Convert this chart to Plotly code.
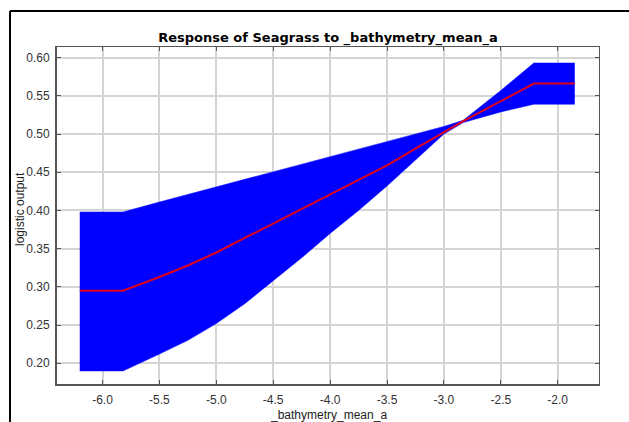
import plotly.graph_objects as go

# Response curve of Seagrass presence vs. mean bathymetry
bathy = [-6.2, -5.82, -5.5, -5.25, -5.0, -4.75, -4.5, -4.25, -4.0, -3.75, -3.5,
         -3.25, -3.0, -2.83, -2.5, -2.21, -1.85]
mean_resp = [0.295, 0.295, 0.313, 0.328, 0.345, 0.364, 0.383, 0.402, 0.421, 0.440, 0.459,
             0.481, 0.503, 0.517, 0.543, 0.566, 0.566]
band_hi = [0.398, 0.398, 0.411, 0.421, 0.431, 0.441, 0.450, 0.460, 0.470, 0.480, 0.490,
           0.500, 0.510, 0.518, 0.557, 0.593, 0.593]
band_lo = [0.190, 0.190, 0.212, 0.230, 0.252, 0.278, 0.308, 0.338, 0.370, 0.400, 0.432,
           0.466, 0.500, 0.515, 0.529, 0.539, 0.539]

x_ticks = [-6.0, -5.5, -5.0, -4.5, -4.0, -3.5, -3.0, -2.5, -2.0]
y_ticks = [0.20, 0.25, 0.30, 0.35, 0.40, 0.45, 0.50, 0.55, 0.60]

x_range = [-6.40, -1.637]
y_range = [0.1729, 0.6139]

font_family = "Liberation Sans, Arial, sans-serif"
axis_dark = "#555555"

fig = go.Figure()

# spread band (lower edge, then filled up to upper edge)
fig.add_trace(go.Scatter(x=bathy, y=band_lo, mode="lines",
                         line=dict(color="#0000ff", width=0.5),
                         hoverinfo="skip", showlegend=False))
fig.add_trace(go.Scatter(x=bathy, y=band_hi, mode="lines", fill="tonexty",
                         fillcolor="#0000ff", line=dict(color="#0000ff", width=0.5),
                         hoverinfo="skip", showlegend=False))
# mean response
fig.add_trace(go.Scatter(x=bathy, y=mean_resp, mode="lines",
                         line=dict(color="#e0001a", width=2),
                         showlegend=False))
# invisible trace to anchor the mirrored top/right axes
fig.add_trace(go.Scatter(x=[x_range[0]], y=[y_range[0]], xaxis="x2", yaxis="y2",
                         mode="markers", marker=dict(opacity=0),
                         hoverinfo="skip", showlegend=False))

tick_font = dict(family=font_family, size=12, color="#333333")

fig.update_layout(
    width=629, height=422,
    margin=dict(l=57, r=30, t=47, b=38),
    paper_bgcolor="white", plot_bgcolor="white",
    title=dict(text="<b>Response of Seagrass to _bathymetry_mean_a</b>",
               x=0.5, xref="paper", xanchor="center",
               y=1 - 37 / 422, yref="container", yanchor="middle",
               font=dict(family="DejaVu Sans, Verdana, sans-serif", size=13,
                         color="#000000")),
    xaxis=dict(range=x_range, tickvals=x_ticks, ticktext=[f"{v:.1f}" for v in x_ticks],
               showgrid=True, gridcolor="#d4d4d4", gridwidth=2,
               zeroline=False, showline=True, linecolor=axis_dark, linewidth=2,
               ticks="inside", ticklen=4, tickcolor=axis_dark, tickwidth=1,
               tickfont=tick_font, ticklabelstandoff=4),
    yaxis=dict(range=y_range, tickvals=y_ticks, ticktext=[f"{v:.2f}" for v in y_ticks],
               showgrid=True, gridcolor="#d4d4d4", gridwidth=2,
               zeroline=False, showline=True, linecolor=axis_dark, linewidth=2,
               ticks="inside", ticklen=4, tickcolor=axis_dark, tickwidth=1,
               tickfont=tick_font, ticklabelstandoff=3),
    xaxis2=dict(range=x_range, tickvals=x_ticks, overlaying="x", side="top",
                showgrid=False, zeroline=False, showticklabels=False,
                showline=True, linecolor=axis_dark, linewidth=1,
                ticks="inside", ticklen=4, tickcolor=axis_dark, tickwidth=1),
    yaxis2=dict(range=y_range, tickvals=y_ticks, overlaying="y", side="right",
                showgrid=False, zeroline=False, showticklabels=False,
                showline=True, linecolor=axis_dark, linewidth=1,
                ticks="inside", ticklen=4, tickcolor=axis_dark, tickwidth=1),
    annotations=[
        dict(text="logistic output", xref="paper", yref="paper",
             x=(20 - 57) / 542, y=(384 - 209) / 337, textangle=-90,
             showarrow=False, xanchor="center", yanchor="middle",
             font=dict(family=font_family, size=12, color="#222222")),
        dict(text="_bathymetry_mean_a", xref="paper", yref="paper",
             x=0.5, y=(384 - 415) / 337,
             showarrow=False, xanchor="center", yanchor="middle",
             font=dict(family=font_family, size=12, color="#222222")),
    ],
    shapes=[
        # outer panel frame
        dict(type="line", xref="paper", yref="paper",
             x0=(10 - 57) / 542, x1=(640 - 57) / 542,
             y0=(384 - 11) / 337, y1=(384 - 11) / 337,
             line=dict(color="#000000", width=2)),
        dict(type="line", xref="paper", yref="paper",
             x0=(10 - 57) / 542, x1=(10 - 57) / 542,
             y0=(384 - 11) / 337, y1=(384 - 440) / 337,
             line=dict(color="#000000", width=2)),
    ],
)

fig.write_html("out.html")
